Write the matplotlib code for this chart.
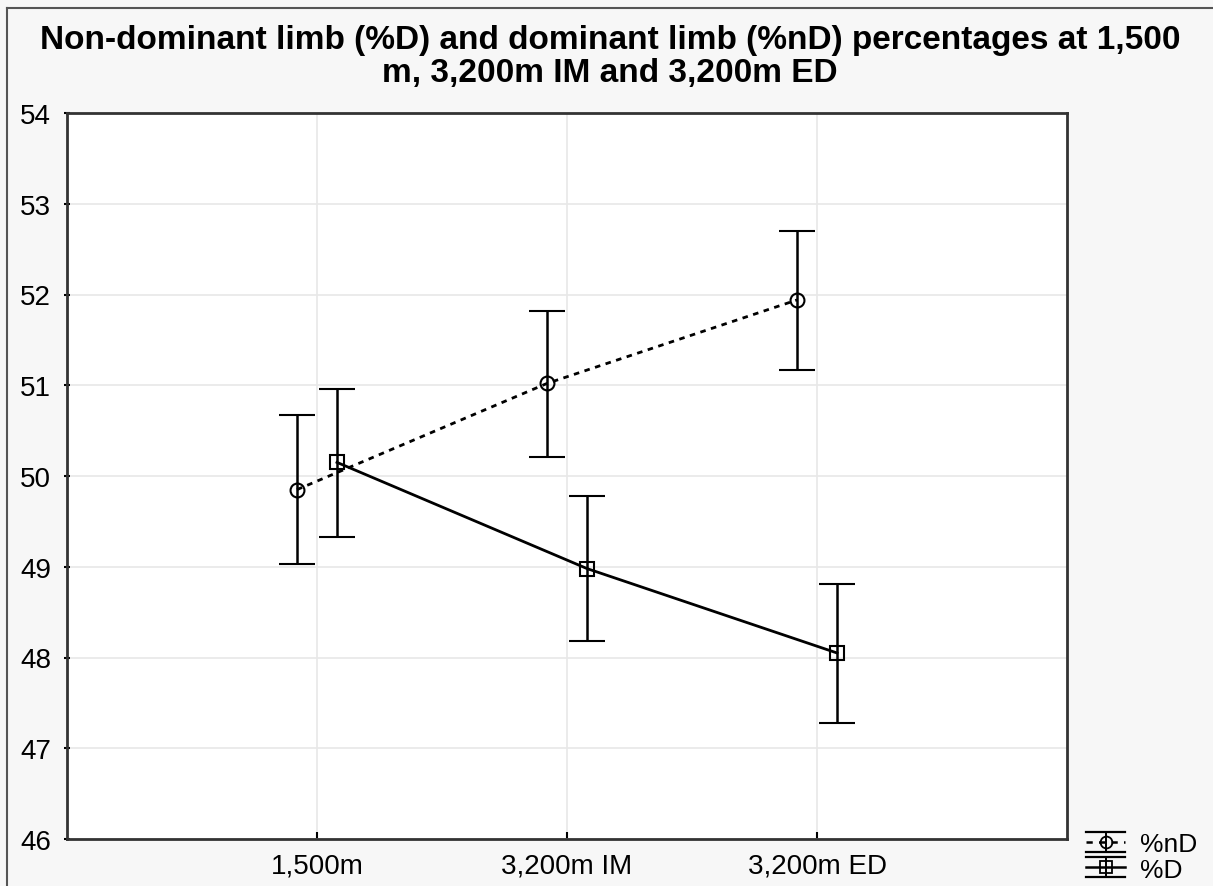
import matplotlib
matplotlib.use("Agg")
import matplotlib.pyplot as plt
from matplotlib.lines import Line2D
from matplotlib.legend_handler import HandlerBase

plt.rcParams['font.family'] = ['Liberation Sans', 'DejaVu Sans']

categories = ["1,500m", "3,200m IM", "3,200m ED"]
nd_mean = [49.85, 51.02, 51.94]
nd_low = [49.03, 50.21, 51.17]
nd_high = [50.67, 51.82, 52.70]
d_mean = [50.15, 48.98, 48.05]
d_low = [49.33, 48.18, 47.28]
d_high = [50.96, 49.78, 48.81]
series_labels = ["%nD", "%D"]
title = "Non-dominant limb (%D) and dominant limb (%nD) percentages at 1,500\nm, 3,200m IM and 3,200m ED"


class ErrLegendHandler(HandlerBase):
    def __init__(self, ls, marker):
        super().__init__()
        self.ls = ls
        self.marker = marker

    def create_artists(self, legend, orig_handle, xdescent, ydescent, width, height, fontsize, trans):
        cy = height / 2 - ydescent
        x0, x1 = -xdescent, -xdescent + width
        cx = (x0 + x1) / 2
        h = 7.2
        arts = []
        for yy in (cy + h, cy - h):
            arts.append(Line2D([x0, x1], [yy, yy], color='black', lw=1.6, transform=trans))
        arts.append(Line2D([x0, x1], [cy, cy], color='black', lw=1.8, linestyle=self.ls, transform=trans))
        arts.append(Line2D([cx, cx], [cy - h, cy + h], color='black', lw=1.4, transform=trans))
        arts.append(Line2D([cx], [cy], marker=self.marker, mfc='none', mec='black', ms=8.5, mew=1.3,
                           linestyle='none', transform=trans))
        return arts


fig = plt.figure(figsize=(12.13, 8.87), dpi=100, facecolor="#f7f7f7")
ax = fig.add_axes([67/1213, 1-840/887, (1067-67)/1213, (840-114)/887])
ax.set_facecolor("white")

pos = list(range(1, len(categories) + 1))
off = 0.08
x_nd = [p - off for p in pos]
x_d = [p + off for p in pos]

nd_err = [[m - l for m, l in zip(nd_mean, nd_low)], [h - m for m, h in zip(nd_mean, nd_high)]]
d_err = [[m - l for m, l in zip(d_mean, d_low)], [h - m for m, h in zip(d_mean, d_high)]]

e1 = ax.errorbar(x_nd, nd_mean, yerr=nd_err, fmt='o', linestyle=(0, (2, 2)), color='black',
                 mfc='none', mec='black', ms=10, mew=1.5, lw=2, elinewidth=1.8,
                 capsize=13, capthick=2, label=series_labels[0], zorder=3)
e2 = ax.errorbar(x_d, d_mean, yerr=d_err, fmt='s', linestyle='-', color='black',
                 mfc='none', mec='black', ms=10, mew=1.5, lw=2, elinewidth=1.8,
                 capsize=13, capthick=2, label=series_labels[1], zorder=3)

ax.set_xlim(0, 4)
ax.set_ylim(46, 54)
ax.set_xticks(pos)
ax.set_xticklabels(categories, fontsize=20)
ax.set_yticks(range(46, 55))
ax.tick_params(axis='y', labelsize=20, direction='inout', length=5, width=1.5, pad=9)
ax.tick_params(axis='x', direction='in', length=5, width=1.5, pad=10)
ax.grid(True, color='#e8e8e8', lw=1.2)
ax.set_axisbelow(True)
for s in ax.spines.values():
    s.set_linewidth(2)
    s.set_color('#333333')

fig.text(0.503, 1 - 57/887, title, ha='center', va='center', fontsize=24,
         fontweight='bold', linespacing=1.1)

h1 = Line2D([], [])
h2 = Line2D([], [])
leg = fig.legend(handles=[h1, h2], labels=series_labels, loc='lower right',
                 bbox_to_anchor=(1.0, -0.013), frameon=False, fontsize=19,
                 handlelength=1.5, handletextpad=0.55, borderaxespad=0.2, labelspacing=0.05,
                 handler_map={h1: ErrLegendHandler((0, (2.5, 2.5)), 'o'),
                              h2: ErrLegendHandler('-', 's')})

# figure border lines (top and left)
fig.add_artist(Line2D([7/1213, 7/1213], [0, 1 - 9/887], color='#555555', lw=1.5))
fig.add_artist(Line2D([7/1213, 1], [1 - 9/887, 1 - 9/887], color='#555555', lw=1.5))

fig.savefig("out.png", dpi=100, facecolor=fig.get_facecolor())
